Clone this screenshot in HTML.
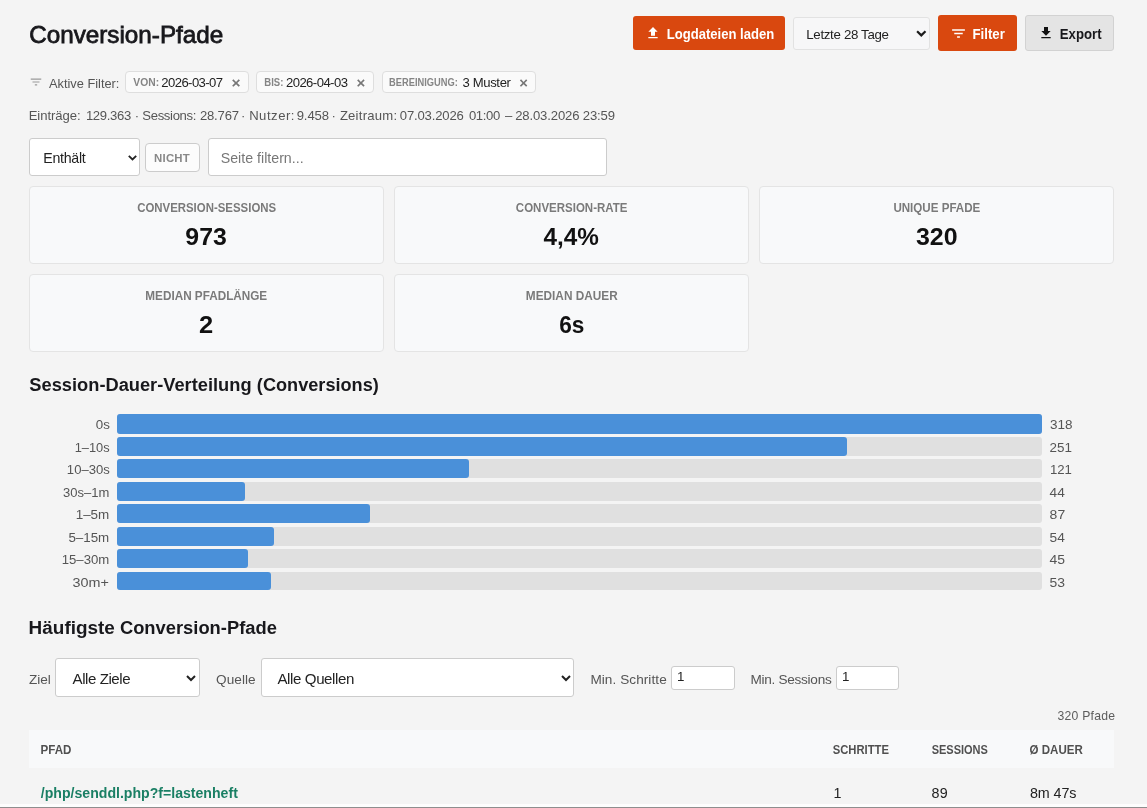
<!DOCTYPE html>
<html lang="de">
<head>
<meta charset="utf-8">
<title>Conversion-Pfade</title>
<style>
html,body{margin:0;padding:0}
body{width:1147px;height:808px;overflow:hidden;background:#f4f4f4;font-family:"Liberation Sans",Arial,sans-serif;position:relative}
.t{position:absolute;white-space:nowrap;display:block}
.b{position:absolute;box-sizing:border-box}
svg{position:absolute;overflow:visible}
</style>
</head>
<body>
<span class="t" id="title" style="left:29.00px;top:19.00px;font-size:24.3px;line-height:32px;transform:translateX(0.15px) scaleX(0.9982);transform-origin:0 0;color:#18181c;-webkit-text-stroke:0.8px #18181c;">Conversion-Pfade</span>
<div class="b" style="left:633px;top:16px;width:152px;height:34px;background:#d9480f;border-radius:3px;"></div>
<svg style="left:644.7px;top:25px" width="16" height="16" viewBox="0 0 24 24"><path d="M9 16h6v-6h4l-7-7-7 7h4zm-4 2h14v2H5z" fill="#fff"/></svg>
<span class="t" id="b_log" style="left:666.00px;top:25.00px;font-size:14.1px;line-height:18px;transform:translateX(0.76px) scaleX(0.9273);transform-origin:0 0;color:#fff;font-weight:700;">Logdateien laden</span>
<div class="b" style="left:793px;top:17px;width:137px;height:33px;background:#f7f7f8;border:1px solid #e2e2e2;border-radius:3px;"></div>
<span class="t" id="sel_days" style="left:806.32px;top:26.00px;font-size:13.3px;line-height:17px;letter-spacing:-0.336px;color:#222;">Letzte 28 Tage</span>
<svg style="left:915.6px;top:30.4px" width="10.6" height="7" viewBox="0 0 10.6 7"><path d="M1.1 1.2 L5.3 5.4 L9.5 1.2" fill="none" stroke="#1c1c1c" stroke-width="2.2"/></svg>
<div class="b" style="left:938px;top:15px;width:79px;height:36px;background:#d9480f;border-radius:3px;"></div>
<svg style="left:950.2px;top:24.5px" width="17" height="17" viewBox="0 0 24 24"><path d="M10 18h4v-2h-4v2zM3 6v2h18V6H3zm3 7h12v-2H6v2z" fill="#fff"/></svg>
<span class="t" id="b_filter" style="left:972.00px;top:25.00px;font-size:14.1px;line-height:18px;transform:translateX(0.51px) scaleX(0.9368);transform-origin:0 0;color:#fff;font-weight:700;">Filter</span>
<div class="b" style="left:1025px;top:15px;width:89px;height:36px;background:#e4e4e4;border:1px solid #d2d2d2;border-radius:3px;"></div>
<svg style="left:1037.7px;top:25.1px" width="16" height="16" viewBox="0 0 24 24"><path d="M19 9h-4V3H9v6H5l7 7 7-7zM5 18v2h14v-2H5z" fill="#111"/></svg>
<span class="t" id="b_export" style="left:1059.00px;top:25.00px;font-size:14.1px;line-height:18px;transform:translateX(0.76px) scaleX(0.9355);transform-origin:0 0;color:#18181c;font-weight:700;">Export</span>
<svg style="left:28.65px;top:74.7px" width="14" height="14" viewBox="0 0 24 24"><path d="M10 18h4v-2h-4v2zM3 6v2h18V6H3zm3 7h12v-2H6v2z" fill="#999"/></svg>
<span class="t" id="af" style="left:49.05px;top:75.00px;font-size:12.8px;line-height:17px;letter-spacing:-0.005px;color:#555;">Aktive Filter:</span>
<div class="b" style="left:125px;top:71px;width:124px;height:22px;background:#fafafa;border:1px solid #dedede;border-radius:4px;"></div>
<span class="t" id="c1_l" style="left:133.00px;top:76.00px;font-size:10.1px;line-height:13px;transform:translateX(0.29px) scaleX(1.0224);transform-origin:0 0;color:#858585;font-weight:700;">VON:</span>
<span class="t" id="c1_v" style="left:161.33px;top:74.00px;font-size:13.1px;line-height:17px;letter-spacing:-0.585px;color:#222;">2026-03-07</span>
<span class="t" id="c1_x" style="left:231.00px;top:74.00px;font-size:14.5px;line-height:19px;transform:translateX(0.43px) scaleX(1.0715);transform-origin:0 0;color:#777;font-weight:700;">×</span>
<div class="b" style="left:256px;top:71px;width:118px;height:22px;background:#fafafa;border:1px solid #dedede;border-radius:4px;"></div>
<span class="t" id="c2_l" style="left:264.00px;top:76.00px;font-size:10.1px;line-height:13px;transform:translateX(0.29px) scaleX(0.9423);transform-origin:0 0;color:#858585;font-weight:700;">BIS:</span>
<span class="t" id="c2_v" style="left:285.93px;top:74.00px;font-size:13.1px;line-height:17px;letter-spacing:-0.551px;color:#222;">2026-04-03</span>
<span class="t" id="c2_x" style="left:356.00px;top:74.00px;font-size:14.5px;line-height:19px;transform:translateX(0.43px) scaleX(1.0355);transform-origin:0 0;color:#777;font-weight:700;">×</span>
<div class="b" style="left:382px;top:71px;width:154px;height:22px;background:#fafafa;border:1px solid #dedede;border-radius:4px;"></div>
<span class="t" id="c3_l" style="left:389.00px;top:76.00px;font-size:10.1px;line-height:13px;transform:translateX(0.09px) scaleX(0.9210);transform-origin:0 0;color:#858585;font-weight:700;">BEREINIGUNG:</span>
<span class="t" id="c3_v" style="left:462.58px;top:74.00px;font-size:13.1px;line-height:17px;letter-spacing:-0.373px;color:#222;">3 Muster</span>
<span class="t" id="c3_x" style="left:519.00px;top:74.00px;font-size:14.5px;line-height:19px;transform:translateX(0.24px) scaleX(1.0226);transform-origin:0 0;color:#777;font-weight:700;">×</span>
<span class="t" id="st0" style="left:28.63px;top:107.00px;font-size:13.1px;line-height:17px;letter-spacing:-0.035px;color:#555;">Einträge:</span>
<span class="t" id="st1" style="left:85.88px;top:107.00px;font-size:13.1px;line-height:17px;letter-spacing:-0.326px;color:#555;">129.363</span>
<span class="t" id="st2" style="left:134.78px;top:107.00px;font-size:13.1px;line-height:17px;letter-spacing:0.000px;color:#555;">·</span>
<span class="t" id="st3" style="left:142.33px;top:107.00px;font-size:13.1px;line-height:17px;letter-spacing:-0.343px;color:#555;">Sessions:</span>
<span class="t" id="st4" style="left:199.93px;top:107.00px;font-size:13.1px;line-height:17px;letter-spacing:-0.184px;color:#555;">28.767</span>
<span class="t" id="st5" style="left:240.98px;top:107.00px;font-size:13.1px;line-height:17px;letter-spacing:0.000px;color:#555;">·</span>
<span class="t" id="st6" style="left:249.13px;top:107.00px;font-size:13.1px;line-height:17px;letter-spacing:0.521px;color:#555;">Nutzer:</span>
<span class="t" id="st7" style="left:296.63px;top:107.00px;font-size:13.1px;line-height:17px;letter-spacing:-0.083px;color:#555;">9.458</span>
<span class="t" id="st8" style="left:331.58px;top:107.00px;font-size:13.1px;line-height:17px;letter-spacing:0.000px;color:#555;">·</span>
<span class="t" id="st9" style="left:339.88px;top:107.00px;font-size:13.1px;line-height:17px;letter-spacing:0.234px;color:#555;">Zeitraum:</span>
<span class="t" id="st10" style="left:399.78px;top:107.00px;font-size:13.1px;line-height:17px;letter-spacing:-0.163px;color:#555;">07.03.2026</span>
<span class="t" id="st11" style="left:468.88px;top:107.00px;font-size:13.1px;line-height:17px;letter-spacing:-0.321px;color:#555;">01:00</span>
<span class="t" id="st12" style="left:504.88px;top:107.00px;font-size:13.1px;line-height:17px;letter-spacing:0.000px;color:#555;">–</span>
<span class="t" id="st13" style="left:515.13px;top:107.00px;font-size:13.1px;line-height:17px;letter-spacing:-0.124px;color:#555;">28.03.2026</span>
<span class="t" id="st14" style="left:582.73px;top:107.00px;font-size:13.1px;line-height:17px;letter-spacing:-0.108px;color:#555;">23:59</span>
<div class="b" style="left:29px;top:138px;width:111px;height:38px;background:#fff;border:1px solid #ccc;border-radius:3px;"></div>
<span class="t" id="enth" style="left:43.26px;top:149.00px;font-size:14.2px;line-height:18px;letter-spacing:-0.268px;color:#222;">Enthält</span>
<svg style="left:128px;top:154.5px" width="9" height="6" viewBox="0 0 9 6"><path d="M0.8 0.8 L4.5 4.5 L8.2 0.8" fill="none" stroke="#222" stroke-width="1.8"/></svg>
<div class="b" style="left:145px;top:143px;width:55px;height:29px;background:#fcfcfc;border:1px solid #ccc;border-radius:4px;"></div>
<span class="t" id="nicht" style="left:154.00px;top:151.00px;font-size:11.4px;line-height:15px;letter-spacing:0.243px;color:#888;font-weight:700;">NICHT</span>
<div class="b" style="left:208px;top:138px;width:399px;height:38px;background:#fff;border:1px solid #ccc;border-radius:3px;"></div>
<span class="t" id="ph" style="left:220.76px;top:149.00px;font-size:14.2px;line-height:18px;letter-spacing:0.002px;color:#777;">Seite filtern...</span>
<div class="b" style="left:29px;top:186px;width:355px;height:78px;background:#f8f9fa;border:1px solid #e4e4e4;border-radius:4px;"></div>
<span class="t" id="k1_l" style="left:137.00px;top:200.00px;font-size:12.4px;line-height:16px;transform:translateX(0.13px) scaleX(0.9219);transform-origin:0 0;color:#7a7a7a;font-weight:700;">CONVERSION-SESSIONS</span>
<span class="t" id="k1_v" style="left:185.00px;top:221.00px;font-size:24.4px;line-height:32px;transform:translateX(0.34px) scaleX(1.0178);transform-origin:0 0;color:#111;font-weight:700;">973</span>
<div class="b" style="left:394px;top:186px;width:355px;height:78px;background:#f8f9fa;border:1px solid #e4e4e4;border-radius:4px;"></div>
<span class="t" id="k2_l" style="left:515.00px;top:200.00px;font-size:12.4px;line-height:16px;transform:translateX(0.83px) scaleX(0.9279);transform-origin:0 0;color:#7a7a7a;font-weight:700;">CONVERSION-RATE</span>
<span class="t" id="k2_v" style="left:543.00px;top:221.00px;font-size:24.4px;line-height:32px;transform:translateX(0.44px) scaleX(0.9965);transform-origin:0 0;color:#111;font-weight:700;">4,4%</span>
<div class="b" style="left:759px;top:186px;width:355px;height:78px;background:#f8f9fa;border:1px solid #e4e4e4;border-radius:4px;"></div>
<span class="t" id="k3_l" style="left:893.00px;top:200.00px;font-size:12.4px;line-height:16px;transform:translateX(0.38px) scaleX(0.9355);transform-origin:0 0;color:#7a7a7a;font-weight:700;">UNIQUE PFADE</span>
<span class="t" id="k3_v" style="left:915.00px;top:221.00px;font-size:24.4px;line-height:32px;transform:translateX(0.99px) scaleX(1.0224);transform-origin:0 0;color:#111;font-weight:700;">320</span>
<div class="b" style="left:29px;top:274px;width:355px;height:78px;background:#f8f9fa;border:1px solid #e4e4e4;border-radius:4px;"></div>
<span class="t" id="k4_l" style="left:145.00px;top:288.00px;font-size:12.4px;line-height:16px;transform:translateX(0.33px) scaleX(0.9467);transform-origin:0 0;color:#7a7a7a;font-weight:700;">MEDIAN PFADLÄNGE</span>
<span class="t" id="k4_v" style="left:199.00px;top:309.00px;font-size:24.4px;line-height:32px;transform:translateX(0.04px) scaleX(1.0461);transform-origin:0 0;color:#111;font-weight:700;">2</span>
<div class="b" style="left:394px;top:274px;width:355px;height:78px;background:#f8f9fa;border:1px solid #e4e4e4;border-radius:4px;"></div>
<span class="t" id="k5_l" style="left:525.00px;top:288.00px;font-size:12.4px;line-height:16px;transform:translateX(0.83px) scaleX(0.9535);transform-origin:0 0;color:#7a7a7a;font-weight:700;">MEDIAN DAUER</span>
<span class="t" id="k5_v" style="left:559.00px;top:309.00px;font-size:24.4px;line-height:32px;transform:translateX(0.24px) scaleX(0.9276);transform-origin:0 0;color:#111;font-weight:700;">6s</span>
<span class="t" id="h_chart" style="left:29.00px;top:373.00px;font-size:18.3px;line-height:24px;transform:translateX(0.37px) scaleX(0.9987);transform-origin:0 0;color:#18181c;font-weight:700;">Session-Dauer-Verteilung</span>
<span class="t" id="h_chart2" style="left:256.00px;top:373.00px;font-size:18.3px;line-height:24px;transform:translateX(0.87px) scaleX(0.9919);transform-origin:0 0;color:#18181c;font-weight:700;">(Conversions)</span>
<div class="b" style="left:117px;top:414px;width:925px;height:20px;background:#e0e0e0;border-radius:3px;"></div>
<div class="b" style="left:117px;top:414px;width:925px;height:20px;background:#4a90d9;border-radius:3px;"></div>
<span class="t" id="cl0" style="left:95.00px;top:416.00px;font-size:13.6px;line-height:18px;transform:translateX(0.75px) scaleX(0.9805);transform-origin:0 0;color:#555;">0s</span>
<span class="t" id="cv0" style="left:1050.00px;top:416.00px;font-size:13.6px;line-height:18px;transform:translateX(0.05px) scaleX(0.9937);transform-origin:0 0;color:#555;">318</span>
<div class="b" style="left:117px;top:437px;width:925px;height:19px;background:#e0e0e0;border-radius:3px;"></div>
<div class="b" style="left:117px;top:437px;width:730px;height:19px;background:#4a90d9;border-radius:3px;"></div>
<span class="t" id="cl1" style="left:74.00px;top:439.00px;font-size:13.6px;line-height:18px;transform:translateX(0.65px) scaleX(0.9419);transform-origin:0 0;color:#555;">1–10s</span>
<span class="t" id="cv1" style="left:1049.00px;top:439.00px;font-size:13.6px;line-height:18px;transform:translateX(0.50px) scaleX(0.9881);transform-origin:0 0;color:#555;">251</span>
<div class="b" style="left:117px;top:459px;width:925px;height:19px;background:#e0e0e0;border-radius:3px;"></div>
<div class="b" style="left:117px;top:459px;width:352px;height:19px;background:#4a90d9;border-radius:3px;"></div>
<span class="t" id="cl2" style="left:66.00px;top:461.00px;font-size:13.6px;line-height:18px;transform:translateX(0.85px) scaleX(0.9627);transform-origin:0 0;color:#555;">10–30s</span>
<span class="t" id="cv2" style="left:1049.00px;top:461.00px;font-size:13.6px;line-height:18px;transform:translateX(0.95px) scaleX(0.9702);transform-origin:0 0;color:#555;">121</span>
<div class="b" style="left:117px;top:482px;width:925px;height:19px;background:#e0e0e0;border-radius:3px;"></div>
<div class="b" style="left:117px;top:482px;width:128px;height:19px;background:#4a90d9;border-radius:3px;"></div>
<span class="t" id="cl3" style="left:62.00px;top:484.00px;font-size:13.6px;line-height:18px;transform:translateX(0.95px) scaleX(0.9569);transform-origin:0 0;color:#555;">30s–1m</span>
<span class="t" id="cv3" style="left:1049.00px;top:484.00px;font-size:13.6px;line-height:18px;transform:translateX(0.60px) scaleX(1.0067);transform-origin:0 0;color:#555;">44</span>
<div class="b" style="left:117px;top:504px;width:925px;height:19px;background:#e0e0e0;border-radius:3px;"></div>
<div class="b" style="left:117px;top:504px;width:253px;height:19px;background:#4a90d9;border-radius:3px;"></div>
<span class="t" id="cl4" style="left:75.00px;top:506.00px;font-size:13.6px;line-height:18px;transform:translateX(0.65px) scaleX(0.9889);transform-origin:0 0;color:#555;">1–5m</span>
<span class="t" id="cv4" style="left:1049.00px;top:506.00px;font-size:13.6px;line-height:18px;transform:translateX(0.60px) scaleX(1.0292);transform-origin:0 0;color:#555;">87</span>
<div class="b" style="left:117px;top:527px;width:925px;height:19px;background:#e0e0e0;border-radius:3px;"></div>
<div class="b" style="left:117px;top:527px;width:157px;height:19px;background:#4a90d9;border-radius:3px;"></div>
<span class="t" id="cl5" style="left:68.00px;top:529.00px;font-size:13.6px;line-height:18px;transform:translateX(0.40px) scaleX(0.9826);transform-origin:0 0;color:#555;">5–15m</span>
<span class="t" id="cv5" style="left:1049.00px;top:529.00px;font-size:13.6px;line-height:18px;transform:translateX(0.60px) scaleX(1.0098);transform-origin:0 0;color:#555;">54</span>
<div class="b" style="left:117px;top:549px;width:925px;height:19px;background:#e0e0e0;border-radius:3px;"></div>
<div class="b" style="left:117px;top:549px;width:131px;height:19px;background:#4a90d9;border-radius:3px;"></div>
<span class="t" id="cl6" style="left:61.00px;top:551.00px;font-size:13.6px;line-height:18px;transform:translateX(0.65px) scaleX(0.9690);transform-origin:0 0;color:#555;">15–30m</span>
<span class="t" id="cv6" style="left:1049.00px;top:551.00px;font-size:13.6px;line-height:18px;transform:translateX(0.60px) scaleX(1.0250);transform-origin:0 0;color:#555;">45</span>
<div class="b" style="left:117px;top:572px;width:925px;height:18px;background:#e0e0e0;border-radius:3px;"></div>
<div class="b" style="left:117px;top:572px;width:154px;height:18px;background:#4a90d9;border-radius:3px;"></div>
<span class="t" id="cl7" style="left:72.00px;top:574.00px;font-size:13.6px;line-height:18px;transform:translateX(0.50px) scaleX(1.0571);transform-origin:0 0;color:#555;">30m+</span>
<span class="t" id="cv7" style="left:1049.00px;top:574.00px;font-size:13.6px;line-height:18px;transform:translateX(0.60px) scaleX(1.0245);transform-origin:0 0;color:#555;">53</span>
<span class="t" id="h_paths" style="left:28.00px;top:616.00px;font-size:18.3px;line-height:24px;transform:translateX(0.62px) scaleX(1.0356);transform-origin:0 0;color:#18181c;font-weight:700;">Häufigste</span>
<span class="t" id="h_paths2" style="left:119.00px;top:616.00px;font-size:18.3px;line-height:24px;transform:translateX(0.92px) scaleX(1.0033);transform-origin:0 0;color:#18181c;font-weight:700;">Conversion-Pfade</span>
<span class="t" id="ziel" style="left:28.95px;top:671.00px;font-size:13.6px;line-height:18px;letter-spacing:-0.005px;color:#555;">Ziel</span>
<div class="b" style="left:55px;top:658px;width:145px;height:39px;background:#fff;border:1px solid #ccc;border-radius:3px;"></div>
<span class="t" id="ziel_v" style="left:72.54px;top:669.00px;font-size:15.1px;line-height:20px;letter-spacing:-0.451px;color:#222;">Alle Ziele</span>
<svg style="left:186.3px;top:675px" width="10" height="7" viewBox="0 0 10 7"><path d="M1 1 L5 5 L9 1" fill="none" stroke="#222" stroke-width="2"/></svg>
<span class="t" id="quelle" style="left:216.10px;top:671.00px;font-size:13.6px;line-height:18px;letter-spacing:0.047px;color:#555;">Quelle</span>
<div class="b" style="left:261px;top:658px;width:313px;height:39px;background:#fff;border:1px solid #ccc;border-radius:3px;"></div>
<span class="t" id="quelle_v" style="left:277.44px;top:669.00px;font-size:15.1px;line-height:20px;letter-spacing:-0.402px;color:#222;">Alle Quellen</span>
<svg style="left:561px;top:675px" width="10" height="7" viewBox="0 0 10 7"><path d="M1 1 L5 5 L9 1" fill="none" stroke="#222" stroke-width="2"/></svg>
<span class="t" id="minsch" style="left:590.40px;top:671.00px;font-size:13.6px;line-height:18px;letter-spacing:0.064px;color:#555;">Min. Schritte</span>
<div class="b" style="left:671px;top:666px;width:64px;height:24px;background:#fff;border:1px solid #ccc;border-radius:3px;"></div>
<span class="t" id="in1" style="left:677.07px;top:668.00px;font-size:13.3px;line-height:17px;letter-spacing:0.000px;color:#222;">1</span>
<span class="t" id="minses" style="left:750.50px;top:671.00px;font-size:13.6px;line-height:18px;letter-spacing:-0.284px;color:#555;">Min. Sessions</span>
<div class="b" style="left:836px;top:666px;width:63px;height:24px;background:#fff;border:1px solid #ccc;border-radius:3px;"></div>
<span class="t" id="in2" style="left:841.97px;top:668.00px;font-size:13.3px;line-height:17px;letter-spacing:0.000px;color:#222;">1</span>
<span class="t" id="count" style="left:1057.40px;top:708.00px;font-size:12.2px;line-height:16px;letter-spacing:0.265px;color:#5c5c5c;">320 Pfade</span>
<div class="b" style="left:29px;top:730px;width:1085px;height:38px;background:#f8f9fa;"></div>
<span class="t" id="th1" style="left:40.00px;top:742.00px;font-size:12.3px;line-height:16px;transform:translateX(0.54px) scaleX(0.9419);transform-origin:0 0;color:#505050;font-weight:700;">PFAD</span>
<span class="t" id="th2" style="left:832.00px;top:742.00px;font-size:12.3px;line-height:16px;transform:translateX(0.64px) scaleX(0.9148);transform-origin:0 0;color:#505050;font-weight:700;">SCHRITTE</span>
<span class="t" id="th3" style="left:931.00px;top:742.00px;font-size:12.3px;line-height:16px;transform:translateX(0.64px) scaleX(0.8946);transform-origin:0 0;color:#505050;font-weight:700;">SESSIONS</span>
<span class="t" id="th4" style="left:1029.00px;top:742.00px;font-size:12.3px;line-height:16px;transform:translateX(0.54px) scaleX(0.9390);transform-origin:0 0;color:#505050;font-weight:700;">Ø DAUER</span>
<span class="t" id="td1" style="left:40.00px;top:785.00px;font-size:13.8px;line-height:18px;transform:translateX(0.78px) scaleX(1.0222);transform-origin:0 0;color:#1a7f64;font-weight:700;">/php/senddl.php?f=lastenheft</span>
<span class="t" id="td2" style="left:833.50px;top:784.00px;font-size:14.3px;line-height:19px;letter-spacing:0.000px;color:#222;">1</span>
<span class="t" id="td3" style="left:931.50px;top:784.00px;font-size:14.3px;line-height:19px;letter-spacing:0.343px;color:#222;">89</span>
<span class="t" id="td4" style="left:1030.00px;top:784.00px;font-size:14.3px;line-height:19px;letter-spacing:-0.079px;color:#222;">8m 47s</span>
<div class="b" style="left:0px;top:804px;width:1147px;height:3px;background:#fdfdfd;"></div>
<div class="b" style="left:0px;top:807px;width:1147px;height:1px;background:#8e8e8e;"></div>
</body>
</html>
